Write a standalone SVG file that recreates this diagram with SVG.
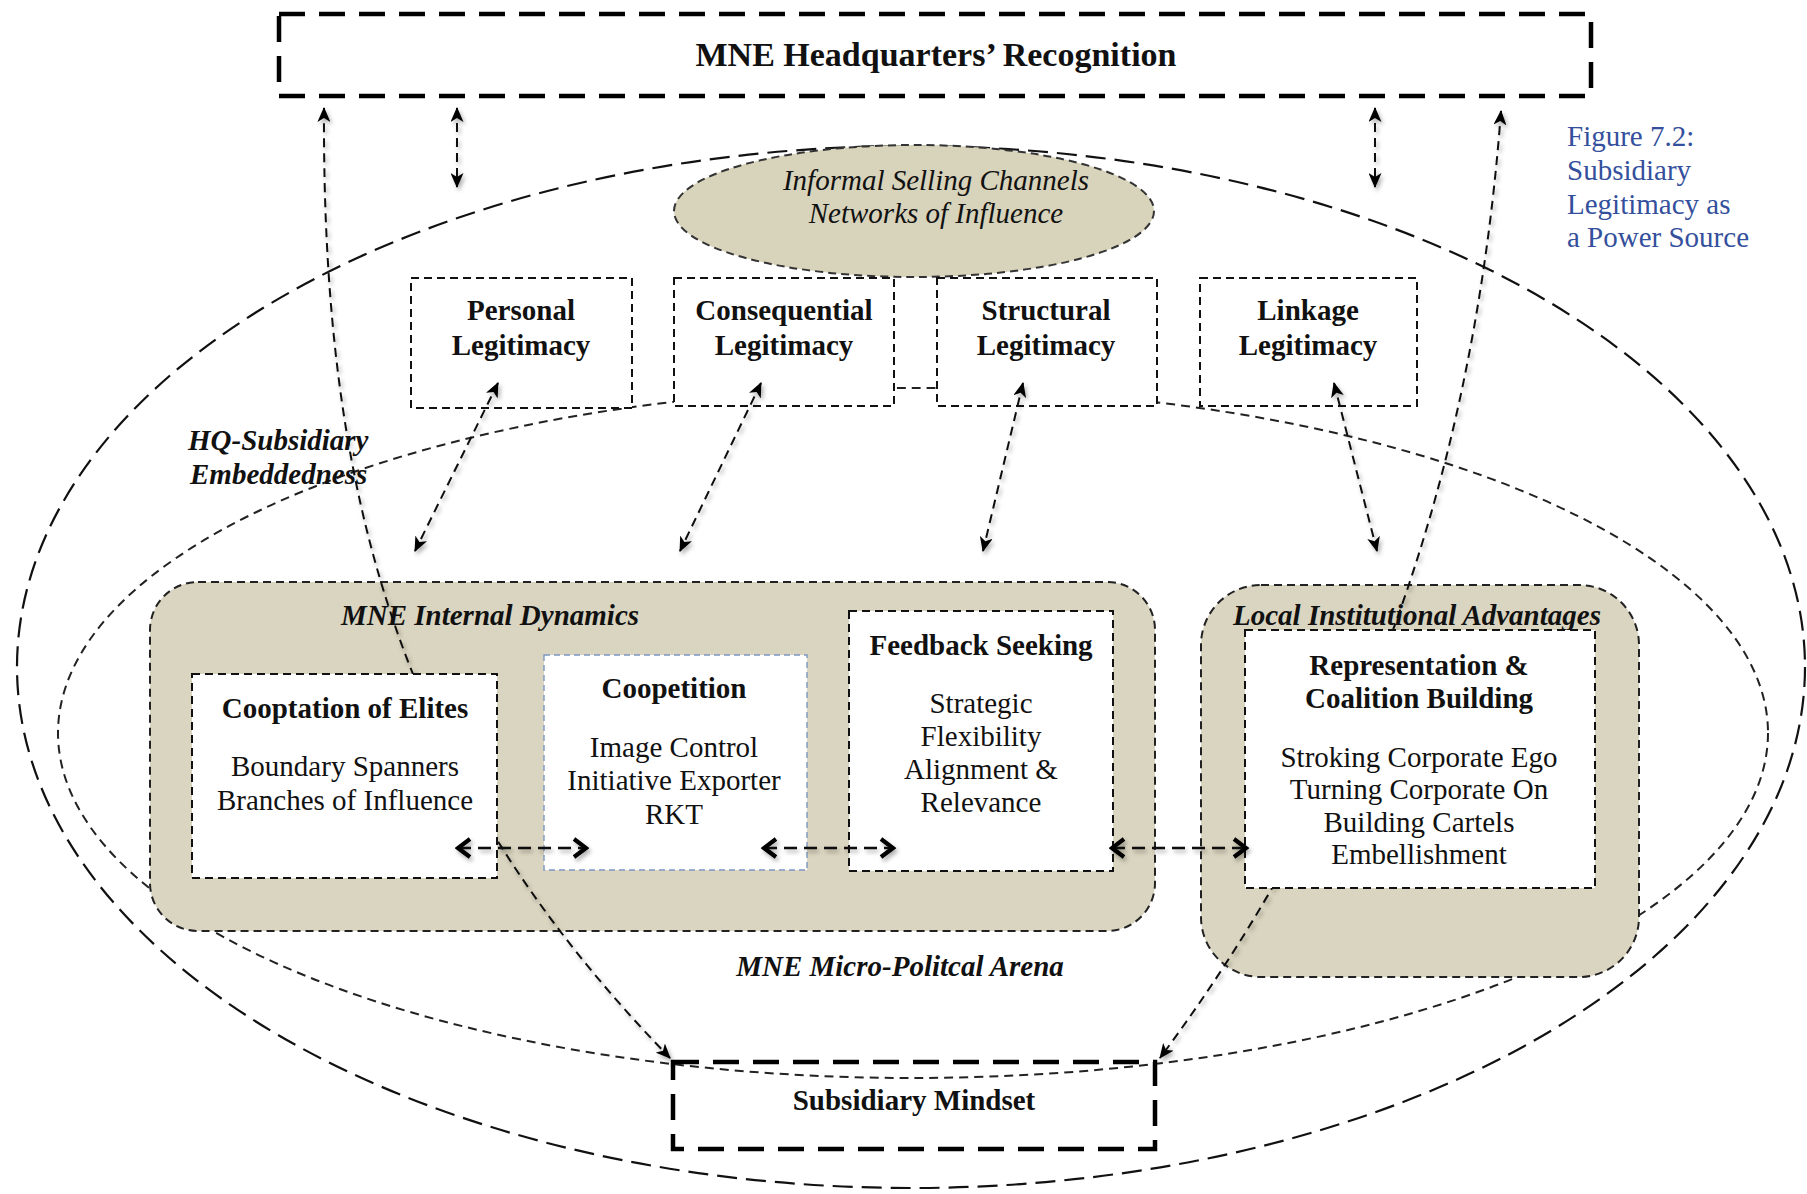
<svg xmlns="http://www.w3.org/2000/svg" width="1807" height="1194" viewBox="0 0 1807 1194">
  <defs>
    <style>
      text { font-family: "Liberation Serif", "Times New Roman", serif; font-size: 29px; fill: #111; text-anchor: middle; }
      .b { font-weight: bold; }
      .i { font-style: italic; }
      .bi { font-weight: bold; font-style: italic; }
      .cap { fill: #34509c; text-anchor: start; }
      .heavy { fill: none; stroke: #000; stroke-width: 4.5; stroke-dasharray: 26 14; }
      .box { fill: #fff; stroke: #111; stroke-width: 2; stroke-dasharray: 8 5; }
      .tan { fill: #dad5c0; stroke: #222; stroke-width: 2; stroke-dasharray: 8 5; }
      .outer { fill: none; stroke: #111; stroke-width: 2.2; stroke-dasharray: 20 9; }
      .inner { fill: none; stroke: #222; stroke-width: 2; stroke-dasharray: 9 6; }
      .conn { fill: none; stroke: #111; stroke-width: 2; stroke-dasharray: 9 6; }
      .hconn { fill: none; stroke: #111; stroke-width: 2.6; stroke-dasharray: 13 7; }
    </style>
    <marker id="ah" viewBox="0 0 15 13" refX="14" refY="6.5" markerWidth="15" markerHeight="13" markerUnits="userSpaceOnUse" orient="auto-start-reverse">
      <path d="M0,0 L15,6.5 L0,13 L4,6.5 Z" fill="#000"/>
    </marker>
    <marker id="chev" viewBox="0 0 18 22" refX="15" refY="11" markerWidth="18" markerHeight="22" markerUnits="userSpaceOnUse" orient="auto-start-reverse">
      <path d="M3,2 L15,11 L3,20" fill="none" stroke="#000" stroke-width="4.2" stroke-linejoin="miter"/>
    </marker>
    <!-- user-space region so flat (horizontal) lines still get their shadow -->
    <filter id="shadow" filterUnits="userSpaceOnUse" x="0" y="0" width="1807" height="1194">
      <feDropShadow dx="2" dy="3" stdDeviation="2.2" flood-color="#000" flood-opacity="0.32"/>
    </filter>
  </defs>

  <rect width="1807" height="1194" fill="#fff"/>

  <!-- Arena ellipses -->
  <ellipse id="micro-political-arena" class="outer" cx="911" cy="667" rx="894" ry="521"/>
  <ellipse id="embeddedness" class="inner" cx="913" cy="733" rx="855" ry="345"/>

  <!-- Free-standing labels -->
  <text class="bi" x="188" y="450" style="text-anchor:start">HQ-Subsidiary</text>
  <text class="bi" x="190" y="484" style="text-anchor:start">Embeddedness</text>
  <text class="bi" x="900" y="976">MNE Micro-Politcal Arena</text>

  <g id="caption">
    <text class="cap" x="1567" y="146">Figure 7.2:</text>
    <text class="cap" x="1567" y="180">Subsidiary</text>
    <text class="cap" x="1567" y="214">Legitimacy as</text>
    <text class="cap" x="1567" y="247">a Power Source</text>
  </g>

  <!-- Top and bottom anchors -->
  <g id="hq-recognition">
    <rect class="heavy" x="279" y="14" width="1312" height="82"/>
    <text class="b" x="936" y="66" style="font-size:34px">MNE Headquarters’ Recognition</text>
  </g>

  <g id="informal-selling">
    <ellipse cx="914" cy="211" rx="240" ry="66" fill="#d8d3bb" stroke="#333" stroke-width="2" stroke-dasharray="8 5"/>
    <text class="i" x="936" y="190">Informal Selling Channels</text>
    <text class="i" x="936" y="223">Networks of Influence</text>
  </g>

  <!-- Legitimacy types -->
  <g id="personal-legitimacy">
    <rect class="box" x="411" y="278" width="221" height="130"/>
    <text class="b" x="521" y="320">Personal</text>
    <text class="b" x="521" y="355">Legitimacy</text>
  </g>
  <g id="consequential-legitimacy">
    <rect class="box" x="674" y="278" width="220" height="128"/>
    <text class="b" x="784" y="320">Consequential</text>
    <text class="b" x="784" y="355">Legitimacy</text>
  </g>
  <g id="structural-legitimacy">
    <rect class="box" x="937" y="278" width="220" height="128"/>
    <text class="b" x="1046" y="320">Structural</text>
    <text class="b" x="1046" y="355">Legitimacy</text>
  </g>
  <g id="linkage-legitimacy">
    <rect class="box" x="1200" y="278" width="217" height="128"/>
    <text class="b" x="1308" y="320">Linkage</text>
    <text class="b" x="1308" y="355">Legitimacy</text>
  </g>

  <!-- Internal dynamics panel -->
  <g id="internal-dynamics">
    <rect class="tan" x="150" y="582" width="1005" height="349" rx="48" ry="48"/>
    <text class="bi" x="490" y="625">MNE Internal Dynamics</text>
  </g>

  <!-- Local institutional panel -->
  <g id="local-advantages">
    <rect class="tan" x="1201" y="585" width="438" height="392" rx="60" ry="60"/>
    <text class="bi" x="1417" y="625">Local Institutional Advantages</text>
  </g>

  <!-- Mindset anchor -->
  <g id="subsidiary-mindset">
    <rect class="heavy" x="673" y="1062" width="482" height="87" fill="#fff"/>
    <text class="b" x="914" y="1110">Subsidiary Mindset</text>
  </g>

  <!-- Connectors -->
  <g id="connectors" filter="url(#shadow)">
    <!-- HQ link curves through the inner panels -->
    <path class="conn" d="M324,108 C322,500 400,780 670,1058" marker-start="url(#ah)" marker-end="url(#ah)"/>
    <path class="conn" d="M1501,111 C1472,500 1352,800 1160,1058" marker-start="url(#ah)" marker-end="url(#ah)"/>
    <!-- HQ to arena -->
    <path class="conn" d="M457,108 L457,187" marker-start="url(#ah)" marker-end="url(#ah)"/>
    <path class="conn" d="M1375,108 L1375,187" marker-start="url(#ah)" marker-end="url(#ah)"/>
    <!-- Legitimacy to panels -->
    <path class="conn" d="M498,383 L415,551" marker-start="url(#ah)" marker-end="url(#ah)"/>
    <path class="conn" d="M761,383 L680,551" marker-start="url(#ah)" marker-end="url(#ah)"/>
    <path class="conn" d="M1023,383 L983,551" marker-start="url(#ah)" marker-end="url(#ah)"/>
    <path class="conn" d="M1334,383 L1377,551" marker-start="url(#ah)" marker-end="url(#ah)"/>
  </g>

  <!-- Internal nodes -->
  <g id="cooptation">
    <rect class="box" x="192" y="674" width="305" height="204"/>
    <text class="b" x="345" y="718">Cooptation of Elites</text>
    <text x="345" y="776">Boundary Spanners</text>
    <text x="345" y="810">Branches of Influence</text>
  </g>
  <g id="coopetition">
    <rect x="544" y="655" width="263" height="215" fill="#fff" stroke="#7d97c4" stroke-width="1.4" stroke-dasharray="6 4"/>
    <text class="b" x="674" y="698">Coopetition</text>
    <text x="674" y="757">Image Control</text>
    <text x="674" y="790">Initiative Exporter</text>
    <text x="674" y="824">RKT</text>
  </g>
  <g id="feedback-seeking">
    <rect class="box" x="849" y="611" width="264" height="260"/>
    <text class="b" x="981" y="655">Feedback Seeking</text>
    <text x="981" y="713">Strategic</text>
    <text x="981" y="746">Flexibility</text>
    <text x="981" y="779">Alignment &amp;</text>
    <text x="981" y="812">Relevance</text>
  </g>
  <g id="representation">
    <rect class="box" x="1245" y="630" width="350" height="258"/>
    <text class="b" x="1419" y="675">Representation &amp;</text>
    <text class="b" x="1419" y="708">Coalition Building</text>
    <text x="1419" y="767">Stroking Corporate Ego</text>
    <text x="1419" y="799">Turning Corporate On</text>
    <text x="1419" y="832">Building Cartels</text>
    <text x="1419" y="864">Embellishment</text>
  </g>

  <!-- Side links between the internal nodes -->
  <g id="links" filter="url(#shadow)">
    <path class="hconn" d="M458,848 L586,848" marker-start="url(#chev)" marker-end="url(#chev)"/>
    <path class="hconn" d="M764,848 L893,848" marker-start="url(#chev)" marker-end="url(#chev)"/>
    <path class="hconn" d="M1112,848 L1246,848" marker-start="url(#chev)" marker-end="url(#chev)"/>
  </g>
</svg>
